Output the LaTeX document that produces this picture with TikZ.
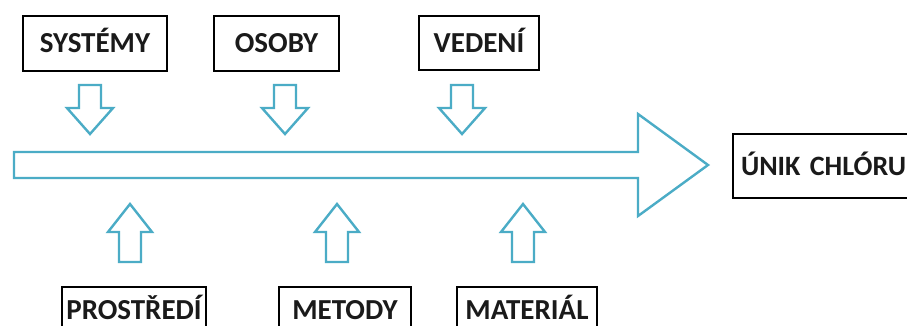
\documentclass[tikz,border=0pt]{standalone}
\usepackage{fontspec}
\setmainfont{Carlito}
\definecolor{arrowblue}{HTML}{4BACC6}
\definecolor{boxtext}{HTML}{1A1A1A}
\begin{document}
\begin{tikzpicture}[x=1pt,y=-1pt,
  causebox/.style={draw=black, line width=2pt, fill=white, inner sep=0pt,
    font=\fontsize{29}{32}\selectfont\bfseries, text=boxtext,
    text height=18.5pt, text depth=0pt, anchor=north west},
  blockarrow/.style={draw=arrowblue, line width=2.4pt, fill=white, line join=miter}]
\useasboundingbox (0,0) rectangle (907,325);
\clip (0,0) rectangle (907,325);
\fill[white] (0,0) rectangle (907,325);

% main spine of the diagram
\draw[blockarrow] (14,152) -- (638,152) -- (638,114) -- (708,165)
  -- (638,216) -- (638,178) -- (14,178) -- cycle;

% cause boxes above the spine
\node[causebox, minimum width=144pt, minimum height=55pt] (systemy) at (22,15) {SYSTÉMY};
\node[causebox, minimum width=125pt, minimum height=55pt] (osoby) at (213,15) {OSOBY};
\node[causebox, minimum width=120pt, minimum height=54pt] (vedeni) at (418,15) {VEDENÍ};

% cause boxes below the spine (their lower edges run past the page)
\node[causebox, minimum width=144pt, minimum height=46pt] (prostredi) at (61,286) {PROSTŘEDÍ};
\node[causebox, minimum width=132pt, minimum height=46pt] (metody) at (278,286) {METODY};
\node[causebox, minimum width=140pt, minimum height=46pt] (material) at (456,286) {MATERIÁL};

% effect box, running off the right edge
\node[causebox, minimum width=190pt, minimum height=64pt, align=left,
  text width=182pt, font=\fontsize{28}{32}\selectfont\bfseries] (unik) at (732,133)
  {\hspace*{4pt}ÚNIK CHLÓRU};

% small arrows pointing down onto the spine
\foreach \cx in {90,285,462}{
  \draw[blockarrow] (\cx-11,85) -- (\cx+11,85) -- (\cx+11,108) -- (\cx+23,108)
    -- (\cx,134) -- (\cx-23,108) -- (\cx-11,108) -- cycle;
}
% small arrows pointing up onto the spine
\foreach \cx in {130,337,523}{
  \draw[blockarrow] (\cx-11,262) -- (\cx-11,232) -- (\cx-22,232) -- (\cx,204)
    -- (\cx+22,232) -- (\cx+11,232) -- (\cx+11,262) -- cycle;
}
\end{tikzpicture}
\end{document}
